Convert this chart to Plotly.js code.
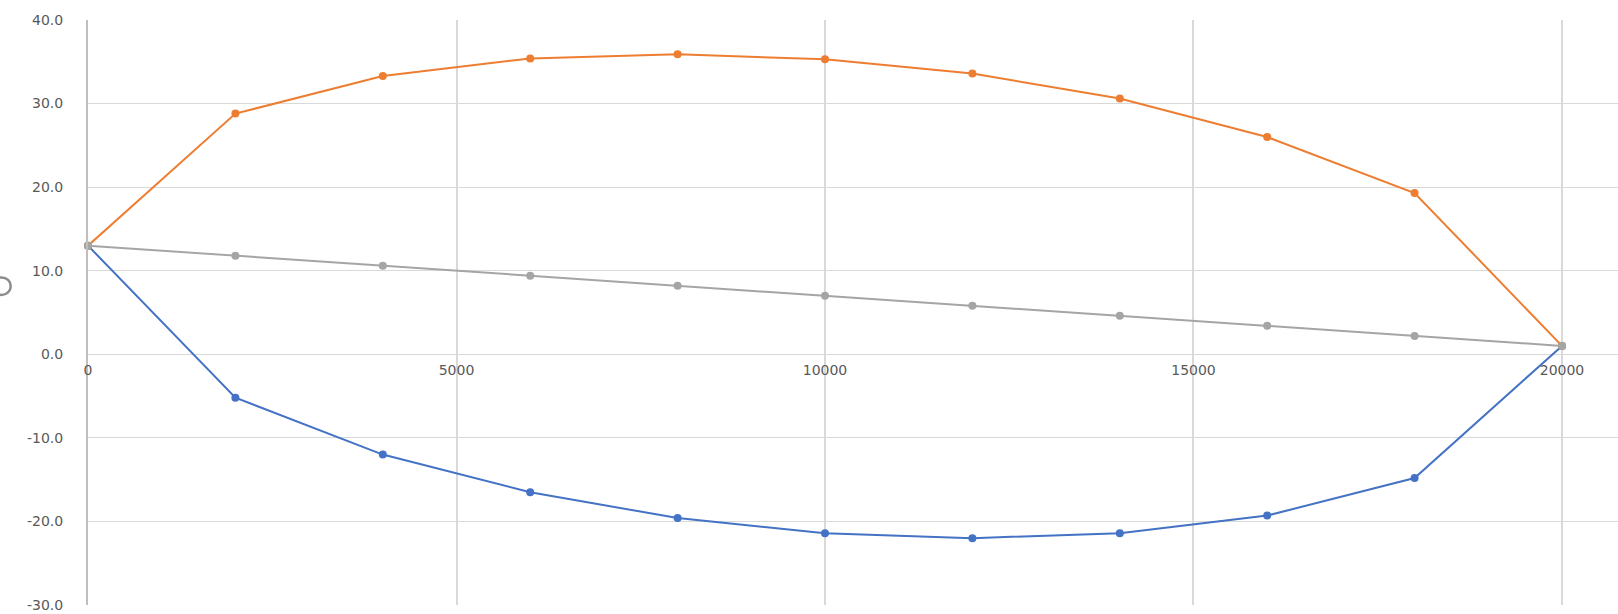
<!DOCTYPE html>
<html>
<head>
<meta charset="utf-8">
<script src="https://cdn.plot.ly/plotly-3.0.1.min.js"></script>
<style>html,body{margin:0;padding:0;background:#fff;}#chart{width:1618px;height:614px;}</style>
</head>
<body>
<div id="chart"></div>
<script>
const xValues = [0, 2000, 4000, 6000, 8000, 10000, 12000, 14000, 16000, 18000, 20000];
const upperSeries = [13.0, 28.8, 33.3, 35.4, 35.9, 35.3, 33.6, 30.6, 26.0, 19.3, 1.0];
const lowerSeries = [13.0, -5.2, -12.0, -16.5, -19.6, -21.4, -22.0, -21.4, -19.3, -14.8, 1.0];
const middleSeries = [13.0, 11.8, 10.6, 9.4, 8.2, 7.0, 5.8, 4.6, 3.4, 2.2, 1.0];

const xTickValues = [0, 5000, 10000, 15000, 20000];
const xTickLabels = ['0', '5000', '10000', '15000', '20000'];
const yTickValues = [-30, -20, -10, 0, 10, 20, 30, 40];
const yTickLabels = ['-30.0', '-20.0', '-10.0', '0.0', '10.0', '20.0', '30.0', '40.0'];

const yMin = -30, yMax = 40;

function series(y, color) {
  return {
    x: xValues, y: y, type: 'scatter', mode: 'lines+markers',
    line: {color: color, width: 2},
    marker: {color: color, size: 8},
    hoverinfo: 'x+y', showlegend: false, cliponaxis: false
  };
}

const data = [
  series(lowerSeries, '#4472C4'),
  series(upperSeries, '#ED7D31'),
  series(middleSeries, '#A5A5A5')
];

const tickFont = {family: 'DejaVu Sans, sans-serif', size: 14, color: '#595959'};

const layout = {
  width: 1618, height: 614,
  margin: {l: 88, r: 0, t: 20, b: 9, pad: 0},
  paper_bgcolor: '#ffffff', plot_bgcolor: '#ffffff',
  showlegend: false,
  xaxis: {
    range: [0, 20760], tickmode: 'array', tickvals: xTickValues, ticktext: xTickLabels,
    showgrid: true, gridcolor: '#d9d9d9', gridwidth: 2,
    zeroline: false, showline: false, ticks: '',
    anchor: 'free', position: (0 - yMin) / (yMax - yMin),
    tickfont: tickFont, ticklabelstandoff: 6
  },
  yaxis: {
    range: [yMin, yMax], tickmode: 'array', tickvals: yTickValues, ticktext: yTickLabels,
    showgrid: true, gridcolor: '#d9d9d9', gridwidth: 1,
    zeroline: true, zerolinecolor: '#d9d9d9', zerolinewidth: 1,
    showline: true, linecolor: '#bfbfbf', linewidth: 2,
    ticks: '', tickfont: tickFont, ticklabelstandoff: 20
  },
  shapes: [
    {type: 'circle', xref: 'paper', yref: 'paper',
     x0: -0.0625, x1: -0.0505, y0: 0.53, y1: 0.56,
     line: {color: '#8c8c8c', width: 2.5}}
  ]
};

Plotly.newPlot('chart', data, layout, {displayModeBar: false, staticPlot: true});
</script>
</body>
</html>
